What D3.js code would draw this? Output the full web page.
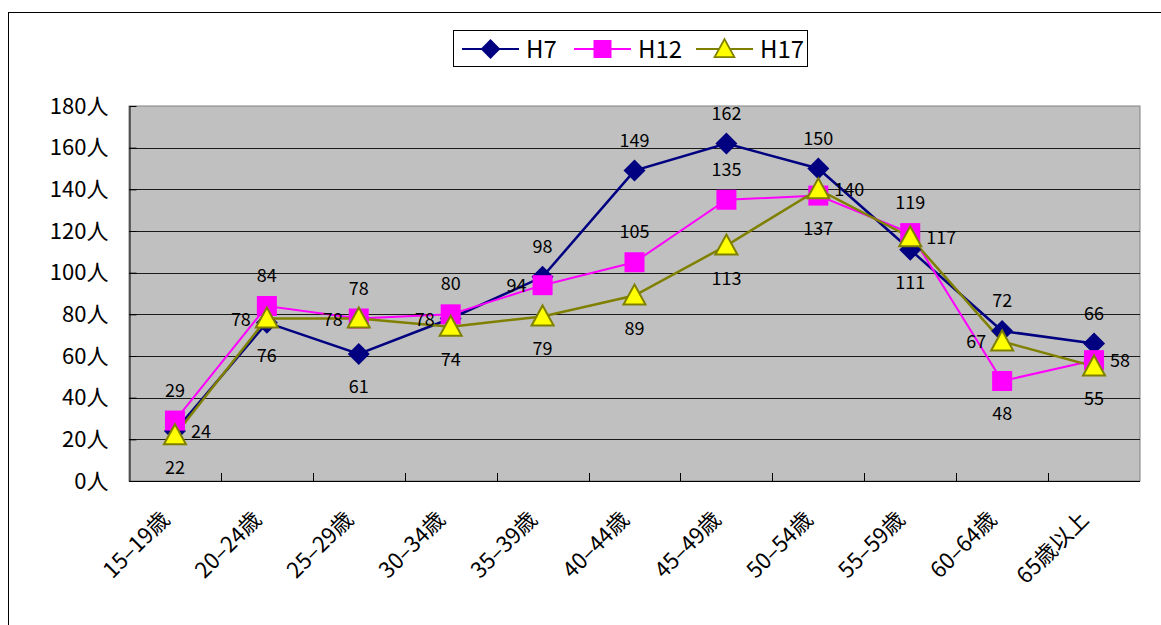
<!DOCTYPE html>
<html>
<head>
<meta charset="utf-8">
<script src="https://cdn.jsdelivr.net/npm/d3@7"></script>
<style>
  body { margin: 0; background: #fff; }
  svg { display: block; }
  text { font-family: "Noto Sans CJK JP", "DejaVu Sans", sans-serif; }
</style>
</head>
<body>
<svg id="chart" width="1161" height="625"></svg>
<script>
// data
var categories = ["15-19歳", "20-24歳", "25-29歳", "30-34歳", "35-39歳", "40-44歳",
  "45-49歳", "50-54歳", "55-59歳", "60-64歳", "65歳以上"];
var h7 = [24, 76, 61, 78, 98, 149, 162, 150, 111, 72, 66];
var h12 = [29, 84, 78, 80, 94, 105, 135, 137, 119, 48, 58];
var h17 = [22, 78, 78, 74, 79, 89, 113, 140, 117, 67, 55];
var yTicks = [0, 20, 40, 60, 80, 100, 120, 140, 160, 180];

// where each data label sits relative to its point
var h7Pos = ["r", "b", "b", "l", "t", "t", "t", "t", "b", "t", "t"];
var h12Pos = ["t", "t", "t", "t", "l", "t", "t", "b", "t", "b", "r"];
var h17Pos = ["b", "l", "l", "b", "b", "b", "b", "r", "r", "l", "b"];

var series = [
  {name: "H7", values: h7, pos: h7Pos, color: "#000080", marker: "diamond", width: 2.5},
  {name: "H12", values: h12, pos: h12Pos, color: "#ff00ff", marker: "square", width: 2},
  {name: "H17", values: h17, pos: h17Pos, color: "#808000", marker: "triangle", width: 2.5}
];

var svg = d3.select("#chart");

// outer frame
svg.append("rect")
  .attr("x", 8.5).attr("y", 12.5)
  .attr("width", 1170).attr("height", 700)
  .attr("fill", "none").attr("stroke", "#000");

var plot = {left: 129, right: 1140, top: 106, bottom: 481};

var x = d3.scaleBand().domain(categories).range([plot.left, plot.right]);
var y = d3.scaleLinear().domain([0, 180]).range([plot.bottom, plot.top]);

// plot background
svg.append("rect")
  .attr("x", plot.left).attr("y", plot.top)
  .attr("width", plot.right - plot.left).attr("height", plot.bottom - plot.top)
  .attr("fill", "#c0c0c0").attr("stroke", "#808080");

// gridlines
svg.append("g").selectAll("line")
  .data(yTicks.filter(function (d) { return d > 0 && d < 180; }))
  .enter().append("line")
  .attr("x1", plot.left).attr("x2", plot.right)
  .attr("y1", function (d) { return Math.round(y(d)) + 0.5; })
  .attr("y2", function (d) { return Math.round(y(d)) + 0.5; })
  .attr("stroke", "#1a1a1a").attr("stroke-width", 1);

// y axis
var yAxis = d3.axisLeft(y).tickValues(yTicks).tickSizeInner(-7).tickSizeOuter(0)
  .tickPadding(21).tickFormat(function (d) { return d + "人"; });
var gy = svg.append("g").attr("transform", "translate(" + (plot.left + 0.5) + ",0)").call(yAxis);
gy.select(".domain").attr("stroke", "#000");
gy.selectAll(".tick line").attr("stroke", "#000");
gy.selectAll("text").attr("font-size", 22).attr("fill", "#000")
  .attr("font-family", "'Noto Sans CJK JP', sans-serif");

// x axis (ticks at category boundaries, pointing inward)
var gx = svg.append("g");
gx.append("line")
  .attr("x1", plot.left).attr("x2", plot.right)
  .attr("y1", plot.bottom + 0.5).attr("y2", plot.bottom + 0.5)
  .attr("stroke", "#000");
gx.selectAll(".bt").data(categories.slice(1)).enter().append("line")
  .attr("x1", function (d) { return Math.round(x(d)) + 0.5; })
  .attr("x2", function (d) { return Math.round(x(d)) + 0.5; })
  .attr("y1", plot.bottom - 8).attr("y2", plot.bottom)
  .attr("stroke", "#000");
gx.selectAll("text").data(categories).enter().append("text")
  .attr("transform", function (d) {
    return "translate(" + (x(d) + x.bandwidth() / 2 - 4) + "," + (plot.bottom + 40) + ") rotate(-45)";
  })
  .attr("text-anchor", "end")
  .attr("font-size", 22)
  .attr("fill", "#000")
  .text(function (d) { return d.replace("-", "–"); });

var line = d3.line()
  .x(function (d, i) { return x(categories[i]) + x.bandwidth() / 2; })
  .y(function (d) { return y(d); });

var diamond = "M0,-11 L11,0 L0,11 L-11,0 Z";
var triangle = "M0,-11 L11,9 L-11,9 Z";

function drawMarker(sel, kind) {
  if (kind === "diamond") {
    sel.append("path").attr("d", diamond).attr("fill", "#000080");
  } else if (kind === "square") {
    sel.append("rect").attr("x", -10).attr("y", -10).attr("width", 20).attr("height", 20)
      .attr("fill", "#ff00ff");
  } else {
    sel.append("path").attr("d", triangle).attr("fill", "#ffff00")
      .attr("stroke", "#808000").attr("stroke-width", 2);
  }
}

series.forEach(function (s) {
  svg.append("path")
    .datum(s.values)
    .attr("d", line)
    .attr("fill", "none")
    .attr("stroke", s.color)
    .attr("stroke-width", s.width);
});

series.forEach(function (s) {
  var pts = svg.append("g").selectAll("g").data(s.values).enter().append("g")
    .attr("transform", function (d, i) {
      return "translate(" + (x(categories[i]) + x.bandwidth() / 2) + "," + y(d) + ")";
    });
  drawMarker(pts, s.marker);
});

// data labels
series.forEach(function (s) {
  svg.append("g").selectAll("text").data(s.values).enter().append("text")
    .attr("x", function (d, i) {
      var cx = x(categories[i]) + x.bandwidth() / 2;
      var p = s.pos[i];
      if (p === "l") return cx - 16;
      if (p === "r") return cx + 16;
      return cx;
    })
    .attr("y", function (d, i) {
      var cy = y(d);
      var p = s.pos[i];
      if (p === "t") return cy - 24;
      if (p === "b") return cy + 39;
      return cy + 7;
    })
    .attr("text-anchor", function (d, i) {
      var p = s.pos[i];
      return p === "l" ? "end" : (p === "r" ? "start" : "middle");
    })
    .attr("font-size", 18)
    .attr("fill", "#000")
    .text(function (d) { return d; });
});

// legend
var legend = svg.append("g");
legend.append("rect")
  .attr("x", 453.5).attr("y", 30.5).attr("width", 354).attr("height", 36)
  .attr("fill", "#fff").attr("stroke", "#000");
var legX = [462, 574, 696];
series.forEach(function (s, i) {
  var lg = legend.append("g").attr("transform", "translate(" + legX[i] + ",49)");
  lg.append("line").attr("x1", 0).attr("x2", 57).attr("y1", 0).attr("y2", 0)
    .attr("stroke", s.color).attr("stroke-width", 2);
  drawMarker(lg.append("g").attr("transform", "translate(28.5,0) scale(0.9)"), s.marker);
  lg.append("text").attr("x", 64).attr("y", 9)
    .attr("font-size", 24).attr("fill", "#000")
    .attr("font-family", "'Liberation Sans', Arial, sans-serif")
    .text(s.name);
});
</script>
</body>
</html>
